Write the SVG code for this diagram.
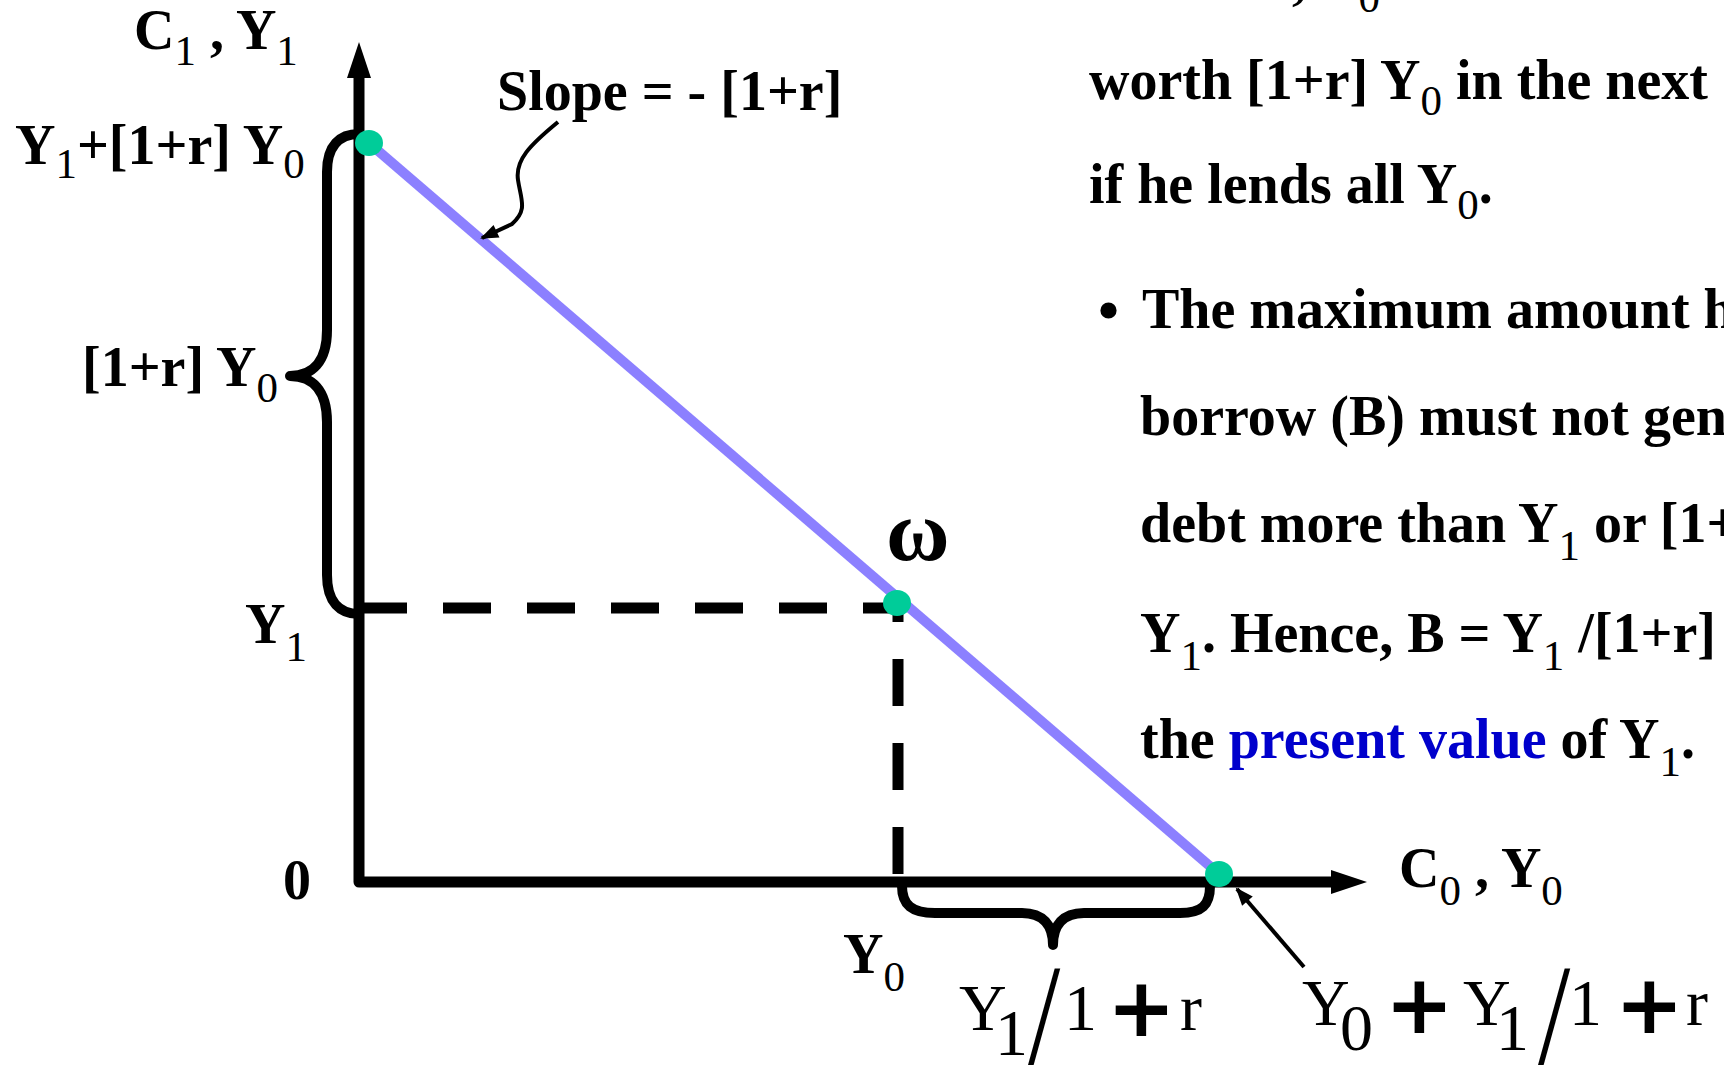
<svg xmlns="http://www.w3.org/2000/svg" width="1724" height="1068" viewBox="0 0 1724 1068">
<style>
text{font-family:"Liberation Serif","Times New Roman",serif;fill:#000}
.b{font-weight:bold;font-size:56px}
.sub{font-weight:normal;font-size:43px}
.eq{font-weight:normal;font-size:66px}
.plus{font-family:"DejaVu Sans",sans-serif;font-weight:bold;font-size:82px}
.slash{font-weight:normal;font-size:145px}
.blue{fill:#0000CC}
.axis{fill:none;stroke:#000;stroke-width:11;stroke-linejoin:round}
.brace{fill:none;stroke:#000;stroke-width:10;stroke-linecap:round;stroke-linejoin:round}
.dash{fill:none;stroke:#000;stroke-width:11}
.ptr{fill:none;stroke:#000;stroke-width:4}
.dot{fill:#00CC99}
</style>
<defs>
<marker id="axhead" markerUnits="userSpaceOnUse" markerWidth="36" markerHeight="24" refX="0" refY="12" orient="auto-start-reverse" overflow="visible">
<path d="M0,0 L36,12 L0,24 z" fill="#000"/>
</marker>
<marker id="ptrhead" markerUnits="userSpaceOnUse" markerWidth="18" markerHeight="14" refX="16" refY="7" orient="auto" overflow="visible">
<path d="M0,0 L18,7 L0,14 z" fill="#000"/>
</marker>
</defs>
<rect width="1724" height="1068" fill="#fff"/>

<g id="guides">
<path class="dash" d="M359,608 L898,608" stroke-dasharray="48 36"/>
<path class="dash" d="M898,874 L898,603" stroke-dasharray="47 37"/>
</g>

<g id="axes">
<path class="axis" d="M359,78 L359,882 L1331,882" marker-start="url(#axhead)" marker-end="url(#axhead)"/>
</g>

<g id="braces">
<path id="brace-left" class="brace" d="M359,134 C340,134 327,145 327,172 L327,330 C327,362 312,376 290,376 C312,376 327,390 327,422 L327,575 C327,602 340,614 359,614"/>
<path id="brace-bottom" class="brace" d="M902,886 C902,905 912,913 935,913 L1022,913 C1043,913 1053,925 1053,945 C1053,925 1063,913 1084,913 L1180,913 C1202,913 1210,905 1210,886"/>
</g>

<g id="budget-line">
<line x1="369" y1="143" x2="1219" y2="874" stroke="#8C80FF" stroke-width="10"/>
</g>

<g id="connectors">
<path id="slope-pointer" class="ptr" d="M558,122 C530,145 515,160 518,180 C521,200 528,210 512,224 L482,238" marker-end="url(#ptrhead)"/>
<path id="sum-pointer" class="ptr" d="M1304,967 L1237,889" marker-end="url(#ptrhead)"/>
</g>

<g id="points">
<ellipse id="pt-top" class="dot" cx="369" cy="143" rx="14" ry="13"/>
<ellipse id="pt-omega" class="dot" cx="897" cy="603" rx="14" ry="13"/>
<ellipse id="pt-bottom" class="dot" cx="1219" cy="874" rx="14" ry="13"/>
</g>

<g id="labels">
<text class="b" x="134" y="49">C<tspan class="sub" dy="16">1</tspan><tspan dy="-16"> , Y</tspan><tspan class="sub" dy="16">1</tspan></text>
<text class="b" x="497" y="110">Slope = - [1+r]</text>
<text class="b" x="15" y="164">Y<tspan class="sub" dy="14">1</tspan><tspan dy="-14">+[1+r] Y</tspan><tspan class="sub" dy="14">0</tspan></text>
<text class="b" x="82" y="386">[1+r] Y<tspan class="sub" dy="16">0</tspan></text>
<text class="b" x="245" y="643">Y<tspan class="sub" dy="18">1</tspan></text>
<text class="b" x="283" y="899">0</text>
<text class="b" x="843" y="973">Y<tspan class="sub" dy="18">0</tspan></text>
<text x="886" y="560" style="font-size:87px;font-weight:bold">ω</text>
<text class="b" x="1399" y="887">C<tspan class="sub" dy="18">0</tspan><tspan dy="-18"> , Y</tspan><tspan class="sub" dy="18">0</tspan></text>
</g>

<g id="eq-interest">
<text class="eq"><tspan x="959" y="1030">Y</tspan><tspan x="995" y="1055">1</tspan><tspan x="1064" y="1030">1</tspan><tspan class="plus" x="1107" y="1036">+</tspan><tspan x="1180" y="1030">r</tspan></text>
<text class="slash" transform="translate(1028,1064) scale(0.8,1)">/</text>
</g>

<g id="eq-sum">
<text class="eq"><tspan x="1302" y="1025">Y</tspan><tspan x="1340" y="1050">0</tspan><tspan class="plus" x="1385" y="1033">+</tspan><tspan x="1463" y="1025">Y</tspan><tspan x="1496" y="1050">1</tspan><tspan x="1569" y="1025">1</tspan><tspan class="plus" x="1615" y="1033">+</tspan><tspan x="1686" y="1025">r</tspan></text>
<text class="slash" transform="translate(1538,1064) scale(0.8,1)">/</text>
</g>

<g id="text-block">
<text class="b" x="1292" y="-2">, Y<tspan class="sub" dy="14">0</tspan></text>
<text class="b" x="1089" y="99">worth [1+r] Y<tspan class="sub" dy="16">0</tspan><tspan dy="-16"> in the next</tspan></text>
<text class="b" x="1089" y="203">if he lends all Y<tspan class="sub" dy="16">0</tspan><tspan dy="-16">.</tspan></text>
<text class="b" x="1098" y="330" style="font-size:60px">•</text>
<text class="b" x="1142" y="328">The maximum amount h</text>
<text class="b" x="1140" y="435">borrow (B) must not gen</text>
<text class="b" x="1140" y="542">debt more than Y<tspan class="sub" dy="18">1</tspan><tspan dy="-18"> or [1+</tspan></text>
<text class="b" x="1140" y="652">Y<tspan class="sub" dy="18">1</tspan><tspan dy="-18">. Hence, B = Y</tspan><tspan class="sub" dy="18">1</tspan><tspan dy="-18"> /[1+r]</tspan></text>
<text class="b" x="1140" y="758">the <tspan class="blue">present value</tspan> of Y<tspan class="sub" dy="18">1</tspan><tspan dy="-18">.</tspan></text>
</g>
</svg>
